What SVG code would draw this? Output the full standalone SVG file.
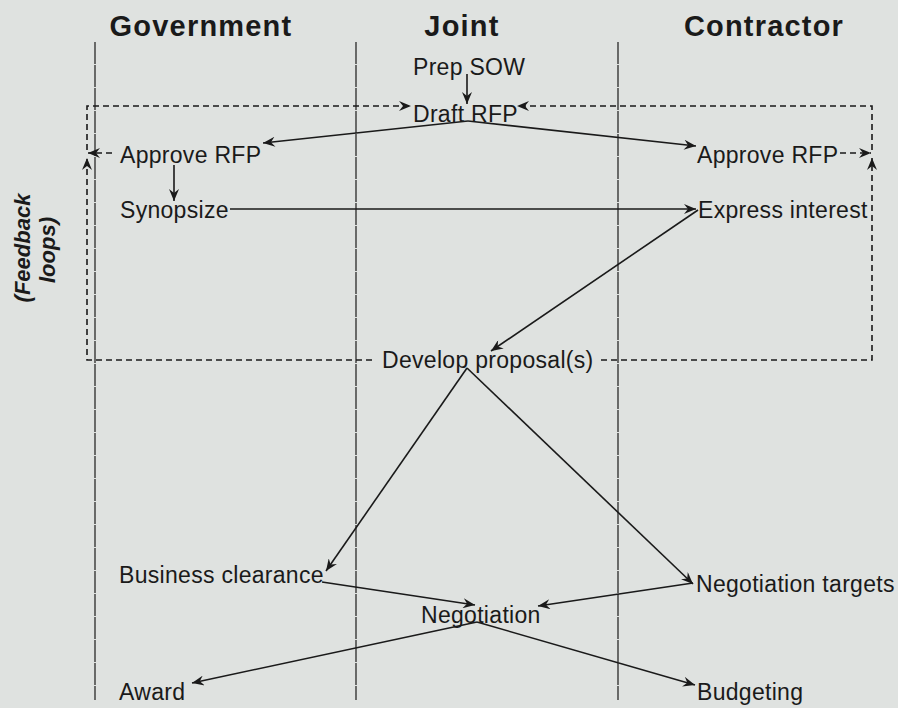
<svg xmlns="http://www.w3.org/2000/svg" width="898" height="708" viewBox="0 0 898 708">
<defs>
<style>
.hdr{font-family:"Liberation Sans",Arial,sans-serif;font-weight:bold;font-size:29px;letter-spacing:1.2px;fill:#1a1a1a;text-anchor:middle}
.lbl{font-family:"Liberation Sans",Arial,sans-serif;font-size:23px;letter-spacing:0.3px;fill:#1a1a1a}
.side{font-family:"Liberation Sans",Arial,sans-serif;font-weight:bold;font-style:italic;font-size:22px;fill:#1a1a1a;text-anchor:middle}
.lane{stroke:#2a2a2a;stroke-width:1.3;fill:none;stroke-dasharray:22 1}
.c{stroke:#1a1a1a;stroke-width:1.6;fill:none}
.arr{marker-end:url(#ah)}
.d{stroke:#1a1a1a;stroke-width:1.6;fill:none;stroke-dasharray:6 4}
</style>
<marker id="ah" viewBox="0 0 12 10" refX="12" refY="5" markerWidth="13" markerHeight="10" markerUnits="userSpaceOnUse" orient="auto">
<path d="M0,0 L12,5 L0,10 L4,5 z" fill="#1a1a1a"/>
</marker>
</defs>
<rect width="898" height="708" fill="#dfe2e0"/>
<g id="lanes">
<text class="hdr" x="201" y="36">Government</text>
<text class="hdr" x="462" y="36">Joint</text>
<text class="hdr" x="764" y="36">Contractor</text>
<line class="lane" x1="95" y1="42" x2="95" y2="700"/>
<line class="lane" x1="356" y1="42" x2="356" y2="700"/>
<line class="lane" x1="618" y1="42" x2="618" y2="700"/>
</g>
<g id="feedback-label">
<text class="side" transform="translate(30,248) rotate(-90)">(Feedback</text>
<text class="side" transform="translate(55,250) rotate(-90)">loops)</text>
</g>
<g id="connectors">
<path class="c arr" d="M467,74 L467,104"/>
<path class="c arr" d="M468,121 L263,143"/>
<path class="c arr" d="M468,121 L696,146"/>
<path class="c arr" d="M174,165 L174,201"/>
<path class="c arr" d="M230,209 L696,209"/>
<path class="c arr" d="M698,210 L491,351"/>
<path class="c arr" d="M467,368 L326,571"/>
<path class="c arr" d="M467,368 L693,584"/>
<path class="c arr" d="M322,582 L475,605"/>
<path class="c arr" d="M693,583 L538,606"/>
<path class="c arr" d="M477,622 L192,683"/>
<path class="c arr" d="M477,622 L695,685"/>
<path class="d arr" d="M112,153 L88,153"/>
<path class="d arr" d="M87,150 L87,106 L411,106"/>
<path class="d arr" d="M372,360 L87,360 L87,158"/>
<path class="d arr" d="M840,153 L871,153"/>
<path class="d arr" d="M872,150 L872,106 L517,106"/>
<path class="d arr" d="M601,360 L872,360 L872,158"/>
</g>
<g id="prep-sow"><text class="lbl" x="413" y="75">Prep SOW</text></g>
<g id="draft-rfp"><text class="lbl" x="413" y="122">Draft RFP</text></g>
<g id="approve-rfp-gov"><text class="lbl" x="120" y="163">Approve RFP</text></g>
<g id="approve-rfp-con"><text class="lbl" x="697" y="163">Approve RFP</text></g>
<g id="synopsize"><text class="lbl" x="120" y="218">Synopsize</text></g>
<g id="express-interest"><text class="lbl" x="698" y="218">Express interest</text></g>
<g id="develop-proposal"><text class="lbl" x="382" y="368">Develop proposal(s)</text></g>
<g id="business-clearance"><text class="lbl" x="119" y="583">Business clearance</text></g>
<g id="negotiation-targets"><text class="lbl" x="696" y="592">Negotiation targets</text></g>
<g id="negotiation"><text class="lbl" x="421" y="623">Negotiation</text></g>
<g id="award"><text class="lbl" x="119" y="700">Award</text></g>
<g id="budgeting"><text class="lbl" x="697" y="700">Budgeting</text></g>
</svg>
